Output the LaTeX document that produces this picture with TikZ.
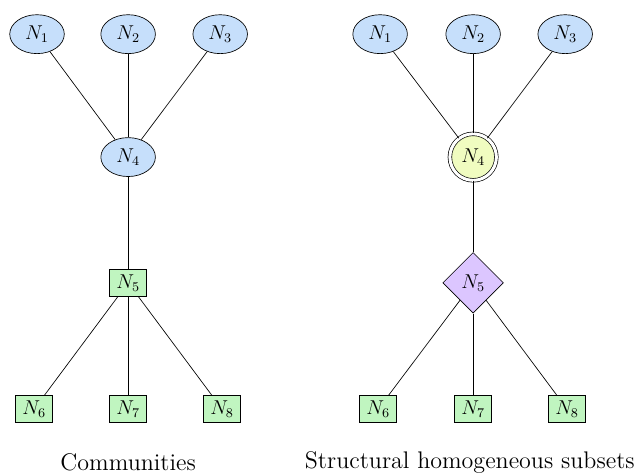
\documentclass[tikz,border=0pt]{standalone}
\usepackage{tikz}
\usetikzlibrary{positioning,shapes.geometric}
\definecolor{nodeblue}{HTML}{C6DFFB}
\definecolor{nodegreen}{HTML}{C0F5C0}
\definecolor{nodeyellow}{HTML}{F0FCC0}
\definecolor{nodeviolet}{HTML}{DCC6FF}

\begin{document}
\begin{tikzpicture}[
  every node/.style={font=\large},
  ell/.style={draw, ellipse, fill=nodeblue, minimum width=1.15cm, minimum height=0.82cm, inner sep=1pt},
  sq/.style={draw, rectangle, fill=nodegreen, inner sep=2pt, minimum width=0.78cm, minimum height=0.57cm},
  dcirc/.style={draw, circle, double, double distance=1.8pt, fill=nodeyellow, minimum size=0.98cm, inner sep=1pt},
  dia/.style={draw, diamond, fill=nodeviolet, minimum size=1.28cm, inner sep=1pt},
  caption/.style={font=\Large}
]
  \useasboundingbox (0,0) rectangle (13.36,-10.01);

  % communities
  \node[ell] (a1) at (0.78,-0.72) {$N_1$};
  \node[ell] (a2) at (2.70,-0.72) {$N_2$};
  \node[ell] (a3) at (4.64,-0.72) {$N_3$};
  \node[ell] (a4) at (2.70,-3.31) {$N_4$};
  \node[sq] (a5) at (2.70,-5.96) {$N_5$};
  \node[sq] (a6) at (0.72,-8.62) {$N_6$};
  \node[sq] (a7) at (2.70,-8.62) {$N_7$};
  \node[sq] (a8) at (4.68,-8.62) {$N_8$};

  \draw (a1) -- (a4);
  \draw (a2) -- (a4);
  \draw (a3) -- (a4);
  \draw (a4) -- (a5);
  \draw (a5) -- (a6);
  \draw (a5) -- (a7);
  \draw (a5) -- (a8);

  % structural homogeneous subsets
  \node[ell] (b1) at (8.01,-0.72) {$N_1$};
  \node[ell] (b2) at (9.97,-0.72) {$N_2$};
  \node[ell] (b3) at (11.91,-0.72) {$N_3$};
  \node[dcirc] (b4) at (9.97,-3.31) {$N_4$};
  \node[dia] (b5) at (9.97,-5.96) {$N_5$};
  \node[sq] (b6) at (7.97,-8.62) {$N_6$};
  \node[sq] (b7) at (9.97,-8.62) {$N_7$};
  \node[sq] (b8) at (11.95,-8.62) {$N_8$};

  \draw (b1) -- (b4);
  \draw (b2) -- (b4);
  \draw (b3) -- (b4);
  \draw (b4) -- (b5);
  \draw (b5) -- (b6);
  \draw (b5) -- (b7);
  \draw (b5) -- (b8);

  \node[caption] (capa) at (2.70,-9.74) {Communities};
  \node[caption] (capb) at (9.90,-9.74) {Structural homogeneous subsets};
\end{tikzpicture}
\end{document}
